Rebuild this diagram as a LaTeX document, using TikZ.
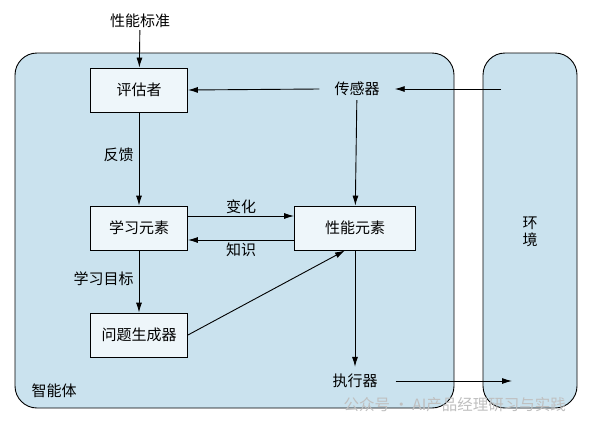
\documentclass[tikz,border=0pt]{standalone}
\usepackage{fontspec}
\setmainfont{Noto Sans CJK SC}
\usetikzlibrary{arrows.meta}
\definecolor{panelblue}{HTML}{CAE2EE}
\definecolor{boxfill}{HTML}{EEF6FA}
\tikzset{
  panel/.style={draw=black, line width=0.9pt, fill=panelblue, rounded corners=22pt},
  unit/.style={draw=black, line width=0.9pt, fill=boxfill, minimum width=97pt, minimum height=44pt, inner sep=0pt, font=\fontsize{15pt}{17pt}\selectfont},
  plain/.style={inner sep=2pt, font=\fontsize{15pt}{17pt}\selectfont},
  conn/.style={line width=0.9pt, -{Latex[length=10pt,width=6pt]}},
  wmark/.style={text=gray!50, font=\fontsize{15.5pt}{17pt}\selectfont}
}
\begin{document}
\begin{tikzpicture}[x=1pt,y=-1pt]
\useasboundingbox (0,0) rectangle (597,429);
% panels
\draw[panel] (15,53) rectangle (454,408);
\draw[panel] (483,53) rectangle (577,408);
% nodes
\node[plain] (std) at (140,21) {性能标准};
\node[unit] (eval) at (139,90) {评估者};
\node[plain, inner xsep=15pt, inner ysep=4pt] (sens) at (357,89) {传感器};
\node[unit] (learn) at (139,228) {学习元素};
\node[unit, minimum width=121pt] (perf) at (355,228) {性能元素};
\node[unit] (prob) at (139,335) {问题生成器};
\node[plain, inner xsep=18pt, inner ysep=7pt] (act) at (355,381) {执行器};
\node[plain, align=center] (env) at (530,232) {环\\境};
\node[plain] (agent) at (54,391) {智能体};
\coordinate (envin) at (501,89);
\coordinate (envout) at (512,381);
% connectors
\draw[conn] (std) -- (eval);
\draw[conn] (sens.west) -- (eval.east);
\draw[conn] (envin) -- (sens.east);
\draw[conn] (eval) -- node[plain, left=3pt, pos=0.45] {反馈} (learn);
\draw[conn] ([yshift=12pt]learn.east) -- node[plain, above=0pt] {变化} ([yshift=12pt]perf.west);
\draw[conn] ([yshift=-12pt]perf.west) -- node[plain, below=0pt] {知识} ([yshift=-12pt]learn.east);
\draw[conn] (learn) -- node[plain, left=3pt, pos=0.45] {学习目标} (prob);
\draw[conn] (prob.east) -- ([xshift=-10pt]perf.south);
\draw[conn] (sens) -- (perf);
\draw[conn] (perf) -- (act);
\draw[conn] (act.east) -- (envout);
% watermark
\node[wmark, anchor=west] (wm) at (340,405) {公众号 · AI产品经理研习与实践};
\end{tikzpicture}
\end{document}
